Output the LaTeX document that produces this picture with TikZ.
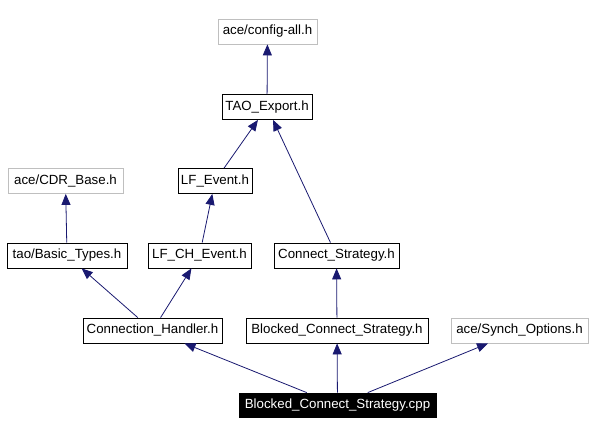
\documentclass[tikz,border=0pt]{standalone}
\usepackage{fontspec}
\setmainfont{Liberation Sans}
\usetikzlibrary{arrows.meta}
\definecolor{edgeblue}{RGB}{25,25,112}
\definecolor{boxgray}{RGB}{191,191,191}
\tikzset{
  box/.style={draw=black, line width=0.8pt, minimum height=25pt, inner sep=0pt, font=\fontsize{13.3}{15}\selectfont, text=black, fill=white},
  graybox/.style={box, draw=boxgray},
  mainbox/.style={box, fill=black, text=white},
  edge/.style={draw=edgeblue, line width=0.8pt, -{Triangle[length=11pt,width=9pt]}}
}
\begin{document}
\begin{tikzpicture}[x=1pt,y=-1pt]
\useasboundingbox (0,0) rectangle (594,435);
\node[graybox, minimum width=99pt] (config) at (267.5,31.5) {ace/config-all.h};
\node[box, minimum width=90pt] (tao) at (267,107) {TAO\_Export.h};
\node[graybox, minimum width=115pt] (cdr) at (65.5,181) {ace/CDR\_Base.h};
\node[box, minimum width=74pt] (lfe) at (215,181) {LF\_Event.h};
\node[box, minimum width=120pt] (basic) at (67,255.5) {tao/Basic\_Types.h};
\node[box, minimum width=103pt] (lfch) at (199.5,255.5) {LF\_CH\_Event.h};
\node[box, minimum width=125pt] (cs) at (336.5,255.5) {Connect\_Strategy.h};
\node[box, minimum width=139pt] (ch) at (152.5,330.5) {Connection\_Handler.h};
\node[box, minimum width=182pt] (bcsh) at (337,330.5) {Blocked\_Connect\_Strategy.h};
\node[graybox, minimum width=137pt] (synch) at (519.5,330.5) {ace/Synch\_Options.h};
\node[mainbox, minimum width=197pt, minimum height=24pt] (cpp) at (337.5,405) {Blocked\_Connect\_Strategy.cpp};
\draw[edge] (tao) -- (config);
\draw[edge] (lfe) -- (tao);
\draw[edge] (cs) -- (tao);
\draw[edge] (basic) -- (cdr);
\draw[edge] (lfch) -- (lfe);
\draw[edge] (ch) -- (basic);
\draw[edge] (ch) -- (lfch);
\draw[edge] (bcsh) -- (cs);
\draw[edge] (cpp) -- (ch);
\draw[edge] (cpp) -- (bcsh);
\draw[edge] (cpp) -- (synch);
\end{tikzpicture}
\end{document}
